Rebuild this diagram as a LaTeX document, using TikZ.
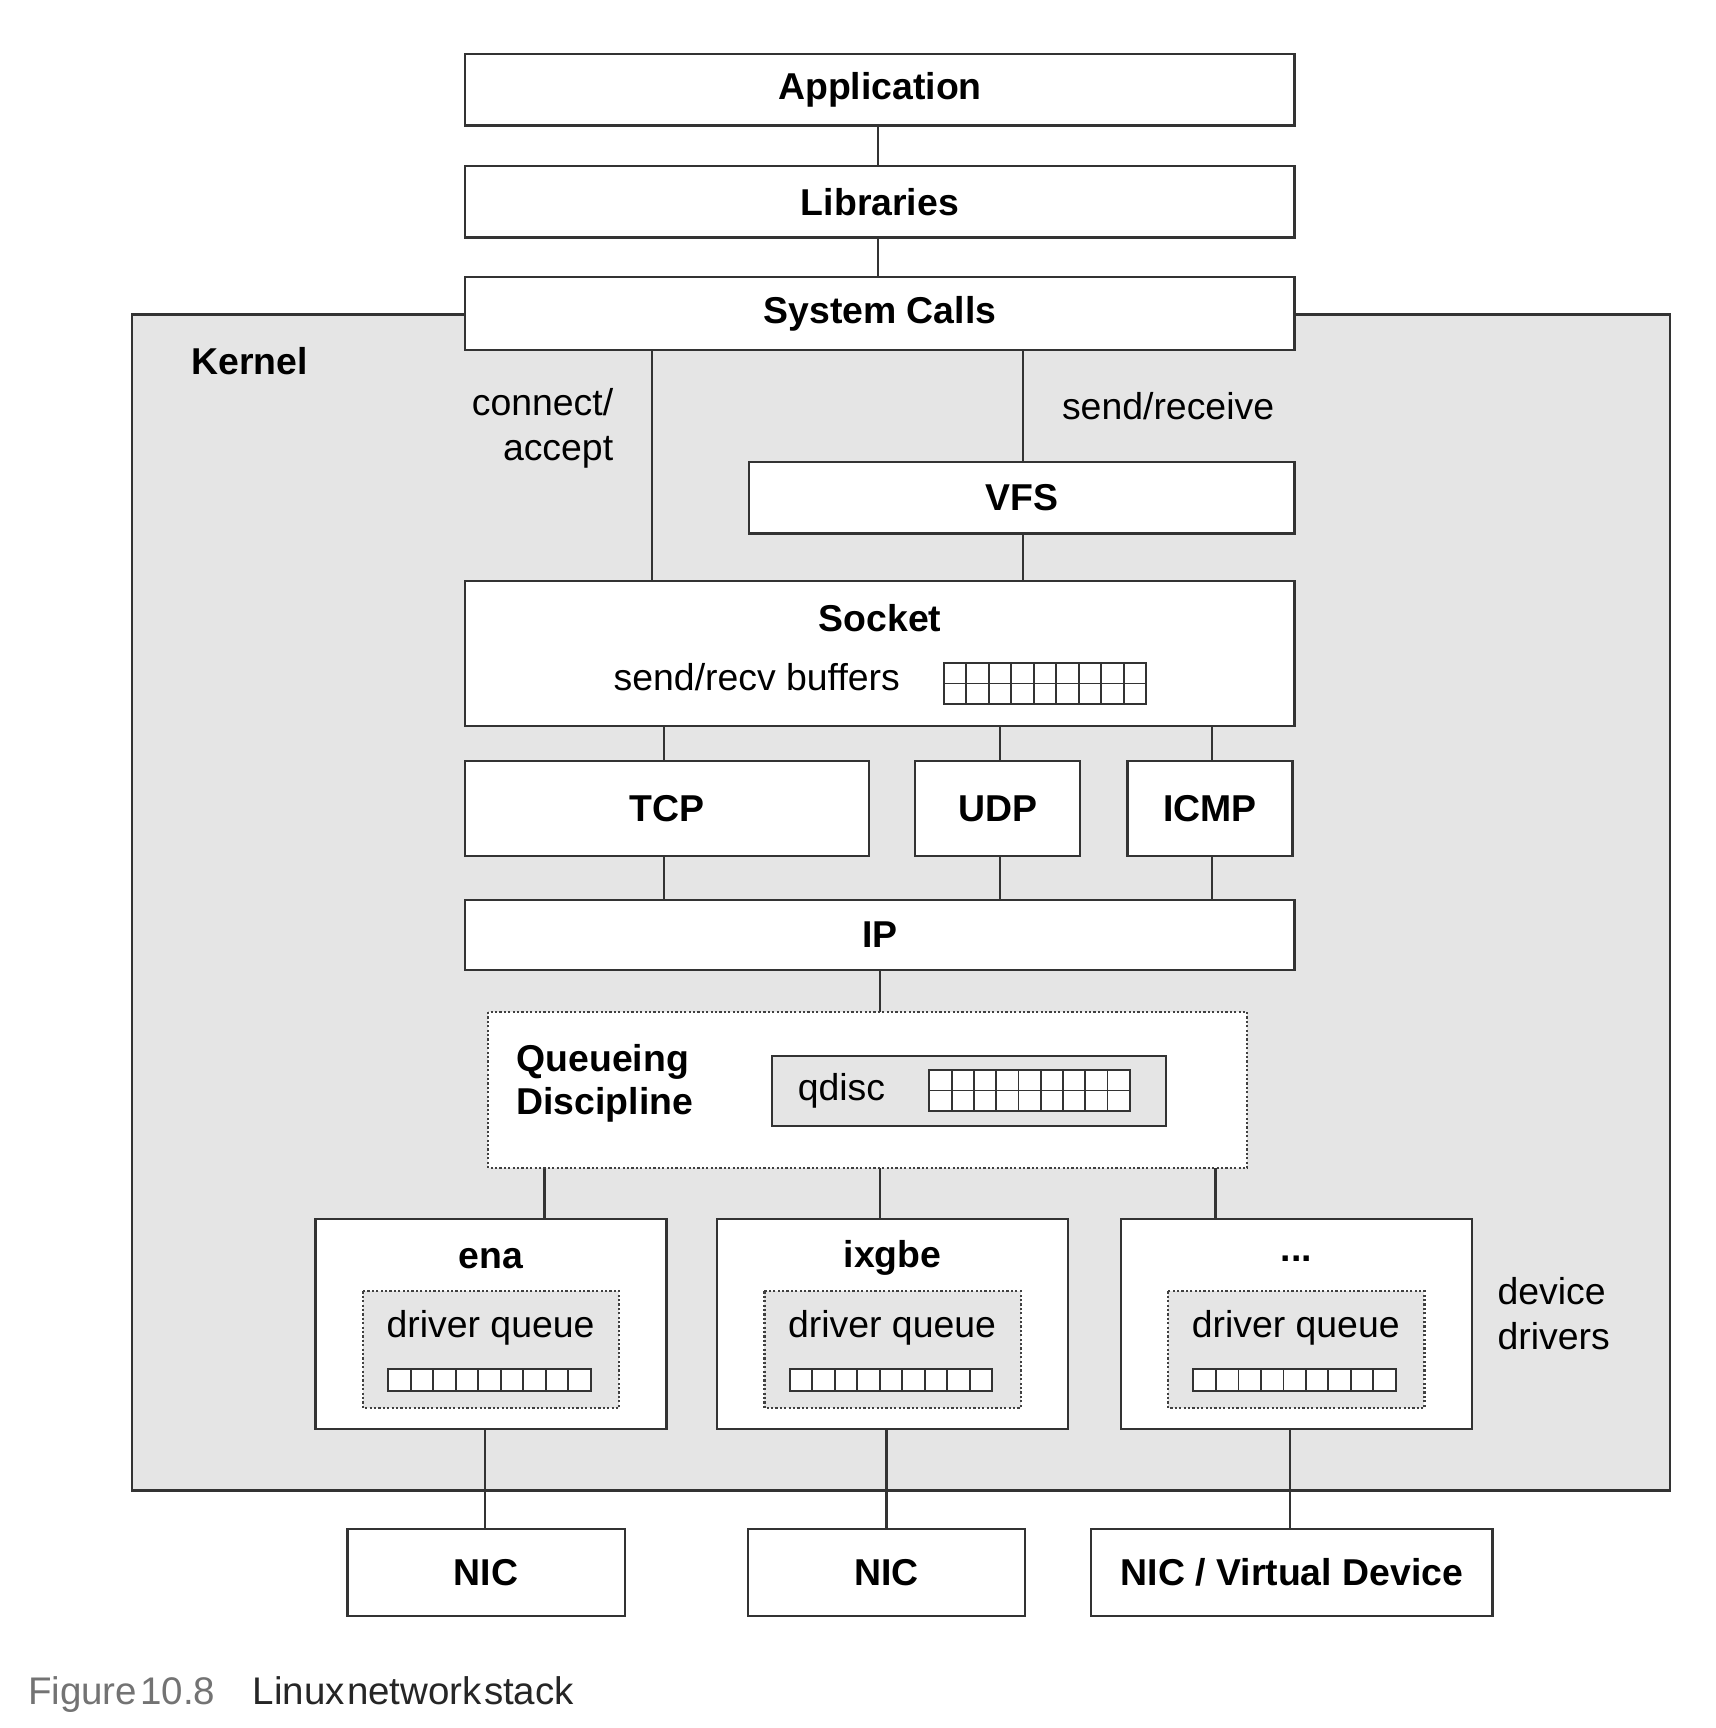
\documentclass[tikz,border=0pt]{standalone}
\usepackage{fontspec}
\setmainfont{Liberation Sans}
\newcommand{\mydots}{...}
\begin{document}
\begin{tikzpicture}[x=1pt,y=-1pt,
  box/.style={draw=black!80,line width=2.2pt,fill=white},
  lbl/.style={font=\fontsize{34}{39}\selectfont\bfseries},
  reg/.style={font=\fontsize{34}{41}\selectfont},
  ln/.style={draw=black!80,line width=2pt},
  dotbox/.style={draw=black!75,line width=2pt,dash pattern=on 2pt off 2pt}]
\useasboundingbox (0,0) rectangle (1560,1571);
\fill[white] (0,0) rectangle (1560,1571);
% kernel
\draw[fill=black!10!white,draw=black!80,line width=2.2pt] (120,286) rectangle (1518,1355);
\node[lbl] at (227,328) {Kernel};
% connectors
\draw[ln] (798,114) -- (798,151);
\draw[ln] (798,216) -- (798,252);
\draw[ln] (593,318) -- (593,528);
\draw[ln] (930,318) -- (930,528);
\foreach \x in {604,909,1102} \draw[ln] (\x,660) -- (\x,818);
\draw[ln] (800,882) -- (800,920);
\foreach \x in {495,800,1105} \draw[ln] (\x,1062) -- (\x,1108);
\foreach \x in {441,806,1173} \draw[ln] (\x,1299) -- (\x,1390);
% top boxes
\draw[box] (423,49) rectangle (1177,114) node[lbl,midway] (app) {Application};
\draw[box] (423,151) rectangle (1177,216) node[lbl,midway] (lib) {Libraries};
\draw[box] (423,252) rectangle (1177,318) node[lbl,midway] (sys) {System Calls};
\node[reg,align=right,anchor=east] (calbl) at (561,389) {connect/\\accept};
\node[reg,anchor=west] (srlbl) at (962,369) {send/receive};
\draw[box] (681,420) rectangle (1177,485) node[lbl,midway] (vfs) {VFS};
\draw[box] (423,528) rectangle (1177,660);
\node[lbl] (sock) at (800,562) {Socket};
\node[reg] (buf) at (688,616) {send/recv buffers};
\draw[line width=1.8pt,draw=black!80] (858,603) rectangle (1042,640);
\draw[line width=1.6pt,draw=black!80] (858,621.5) -- (1042,621.5);
\foreach \i in {1,...,8} \draw[line width=1.6pt,draw=black!80] ({858+\i*184/9},603) -- ({858+\i*184/9},640);
\draw[box] (423,692) rectangle (790,778) node[lbl,midway] (tcp) {TCP};
\draw[box] (832,692) rectangle (982,778) node[lbl,midway] (udp) {UDP};
\draw[box] (1025,692) rectangle (1175,778) node[lbl,midway] (icmp) {ICMP};
\draw[box] (423,818) rectangle (1177,882) node[lbl,midway] (ip) {IP};
% qdisc
\draw[dotbox,fill=white] (444,920) rectangle (1134,1062);
\node[lbl,align=left,anchor=west] (qd) at (466,985) {Queueing\\Discipline};
\draw[draw=black!80,line width=2pt,fill=black!10!white] (702,960) rectangle (1060,1024);
\node[reg] (qdisc) at (765,992) {qdisc};
\draw[line width=1.8pt,draw=black!80,fill=white] (845,973) rectangle (1027,1010);
\draw[line width=1.6pt,draw=black!80] (845,991.5) -- (1027,991.5);
\foreach \i in {1,...,8} \draw[line width=1.6pt,draw=black!80] ({845+\i*182/9},973) -- ({845+\i*182/9},1010);
% drivers
\foreach \xa/\t in {287/ena,652/ixgbe,1019/\mydots}{
  \draw[box] (\xa,1108) rectangle ({\xa+319},1299);
  \node[lbl] at ({\xa+159.5},1144) {\t};
  \draw[dotbox,fill=black!10!white] ({\xa+43},1174) rectangle ({\xa+276},1280);
  \node[reg] at ({\xa+159},1207) {driver queue};
  \draw[line width=1.8pt,draw=black!80,fill=white] ({\xa+66},1245) rectangle ({\xa+250},1265);
  \foreach \i in {1,...,8} \draw[line width=1.6pt,draw=black!80] ({\xa+66+\i*184/9},1245) -- ({\xa+66+\i*184/9},1265);
}
\node[reg,align=left,anchor=west] (dd) at (1358,1194) {device\\drivers};
% NICs
\draw[box] (316,1390) rectangle (568,1469) node[lbl,midway] (n1) {NIC};
\draw[box] (680,1390) rectangle (932,1469) node[lbl,midway] (n2) {NIC};
\draw[box] (992,1390) rectangle (1357,1469) node[lbl,midway] (n3) {NIC / Virtual Device};
\node[anchor=west,text=black!55,font=\fontsize{35}{40}\selectfont] (cap) at (22,1541) {Figure\hspace{3pt}10.8\hspace{34pt}\textcolor{black!85}{Linux\hspace{2pt}network\hspace{2pt}stack}};
\end{tikzpicture}
\end{document}
